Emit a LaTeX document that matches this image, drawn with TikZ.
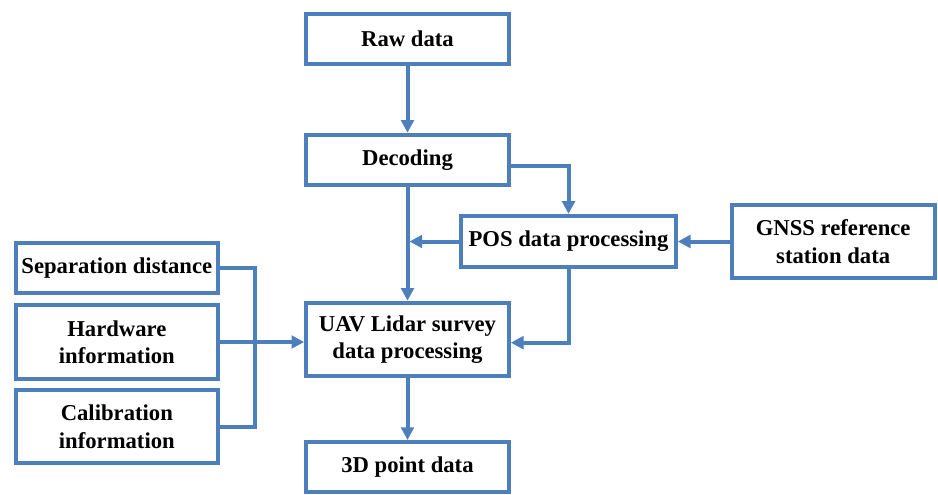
\documentclass[tikz,border=0pt]{standalone}
\usepackage{fontspec}
\setmainfont{Liberation Serif}
\usepackage{xcolor}
\usetikzlibrary{
  positioning,
  arrows.meta
}
\definecolor{flowblue}{RGB}{76,127,188}

\begin{document}
\begin{tikzpicture}[
  x=0.75pt, y=-0.75pt,
  font=\fontsize{17}{20.5}\selectfont\bfseries,
  box/.style={draw=flowblue, line width=3pt, rectangle, fill=white, minimum width=152pt, minimum height=37.5pt, align=center, inner sep=2pt},
  tallbox/.style={box, minimum height=55pt},
  arrow/.style={-{Triangle[length=9.5pt, width=9.5pt]}, draw=flowblue, line width=3pt},
  line/.style={draw=flowblue, line width=3pt}
]
\useasboundingbox (0,0) rectangle (938,494);

% Nodes
\node[box] (raw) at (407.5,39) {Raw data};
\node[box, below=50pt of raw] (decode) {Decoding};
\node[tallbox, below=85.5pt of decode] (uav) {UAV Lidar survey\\ data processing};
\node[box, below=46.5pt of uav] (point) {3D point data};
\node[box, minimum width=161pt, minimum height=38.5pt] (pos) at (568.5,241.5) {POS data processing};
\node[tallbox, right=39pt of pos] (gnss) {GNSS reference\\ station data};
\node[tallbox, left=63pt of uav, yshift=-2pt] (hw) {Hardware\\ information};
\node[box, above=6pt of hw] (sep) {Separation distance};
\node[tallbox, below=5.5pt of hw] (cal) {Calibration\\ information};

% Arrows
\draw[arrow] (raw) -- (decode);
\draw[arrow] (decode) -- (uav);
\draw[arrow] ([yshift=-5pt]decode.east) -| (pos.north);
\draw[arrow, shorten >=1.5pt] (pos.west) -- (pos.west -| decode.south);
\draw[arrow] (gnss.west |- pos.east) -- (pos.east);
\draw[arrow] (pos.south) |- ([yshift=-2.5pt]uav.east);
\draw[line] (sep.east) -- ++(26pt,0) |- (cal.east);
\draw[arrow] (hw.east) -- (uav.west |- hw.east);
\draw[arrow] (uav) -- (point);

\end{tikzpicture}
\end{document}
